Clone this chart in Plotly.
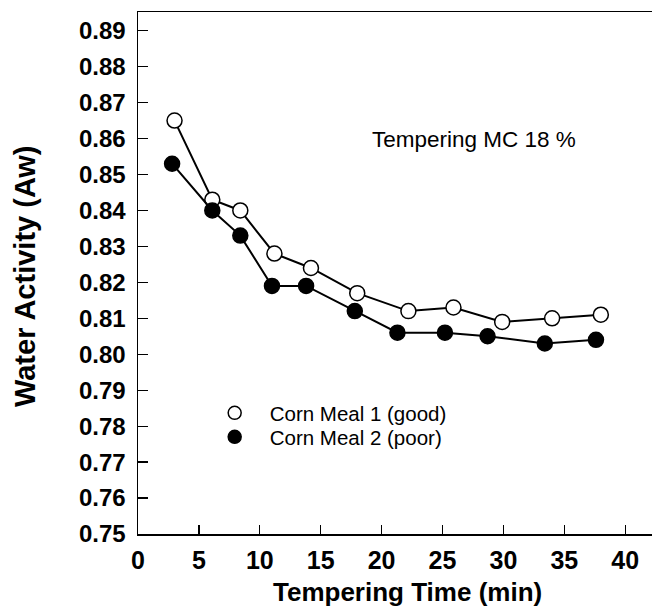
import plotly.graph_objects as go

time1 = [3.0, 6.1, 8.4, 11.2, 14.2, 18.0, 22.2, 25.9, 29.9, 34.0, 38.0]
aw1 = [0.865, 0.843, 0.840, 0.828, 0.824, 0.817, 0.812, 0.813, 0.809, 0.810, 0.811]
time2 = [2.8, 6.1, 8.4, 11.0, 13.8, 17.8, 21.3, 25.2, 28.7, 33.4, 37.6]
aw2 = [0.853, 0.840, 0.833, 0.819, 0.819, 0.812, 0.806, 0.806, 0.805, 0.803, 0.804]
names = ["Corn Meal 1 (good)", "Corn Meal 2 (poor)"]
x_ticks = [0, 5, 10, 15, 20, 25, 30, 35, 40]
y_ticks = [0.75, 0.76, 0.77, 0.78, 0.79, 0.80, 0.81, 0.82, 0.83, 0.84, 0.85, 0.86, 0.87, 0.88, 0.89]

FONT = "Liberation Sans, Arial, sans-serif"

fig = go.Figure()
fig.add_trace(go.Scatter(x=time1, y=aw1, mode="lines+markers", showlegend=False,
                         line=dict(color="black", width=2),
                         marker=dict(symbol="circle", size=15, color="white",
                                     line=dict(color="black", width=1.5))))
fig.add_trace(go.Scatter(x=time2, y=aw2, mode="lines+markers", showlegend=False,
                         line=dict(color="black", width=2),
                         marker=dict(symbol="circle", size=15, color="black",
                                     line=dict(color="black", width=1.5))))
# legend entries (markers only), one legend box per row for exact spacing
fig.add_trace(go.Scatter(x=[None], y=[None], mode="markers", name=names[0], legend="legend",
                         marker=dict(symbol="circle", size=13, color="white",
                                     line=dict(color="black", width=1.5))))
fig.add_trace(go.Scatter(x=[None], y=[None], mode="markers", name=names[1], legend="legend2",
                         marker=dict(symbol="circle", size=13, color="black",
                                     line=dict(color="black", width=1.5))))

fig.add_annotation(x=27.6, y=0.8596, xref="x", yref="y", text="Tempering MC 18 %",
                   showarrow=False, font=dict(family=FONT, size=22.5, color="black"))
fig.add_annotation(x=0.525, y=-0.111, xref="paper", yref="paper",
                   text="<b>Tempering Time (min)</b>", showarrow=False,
                   xanchor="center", yanchor="middle",
                   font=dict(family=FONT, size=26, color="black"))
fig.add_annotation(x=-0.22, y=0.494, xref="paper", yref="paper",
                   text="<b>Water Activity (Aw)</b>", showarrow=False, textangle=-90,
                   xanchor="center", yanchor="middle",
                   font=dict(family=FONT, size=29, color="black"))

leg_common = dict(xanchor="left", yanchor="middle", bgcolor="rgba(0,0,0,0)",
                  font=dict(family=FONT, size=20.5, color="black"), itemwidth=60)

fig.update_layout(
    width=652, height=611,
    margin=dict(l=138, r=0, t=12, b=77),
    paper_bgcolor="white", plot_bgcolor="white",
    font=dict(family=FONT, color="black"),
    legend=dict(x=0.12, y=(534 - 413) / 522, **leg_common),
    legend2=dict(x=0.12, y=(534 - 437) / 522, **leg_common),
    xaxis=dict(range=[0, 42.2], tickvals=x_ticks, ticks="inside", ticklen=9,
               tickwidth=1.3, tickcolor="black", showline=True, linecolor="black",
               linewidth=1.5, mirror=True, showgrid=False, zeroline=False,
               ticklabelstandoff=3,
               tickfont=dict(family=FONT, size=25, color="black", weight="bold")),
    yaxis=dict(range=[0.75, 0.8952], tickvals=y_ticks, tickformat=".2f",
               ticks="inside", ticklen=10, tickwidth=1.3, tickcolor="black",
               showline=True, linecolor="black", linewidth=1.5, mirror=False,
               showgrid=False, zeroline=False, ticklabelstandoff=6,
               tickfont=dict(family=FONT, size=24, color="black", weight="bold")),
)

fig.write_html("out.html", config={"displayModeBar": False, "staticPlot": True},
               post_script=("document.documentElement.style.overflow='hidden';"
                            "document.body.style.margin='0';"
                            "document.body.style.overflow='hidden';"))
